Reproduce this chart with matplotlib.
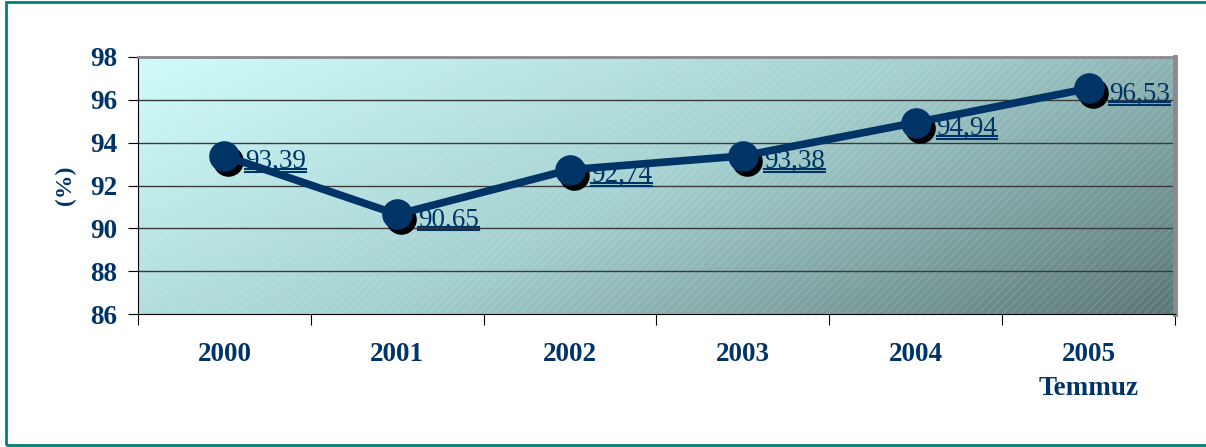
import numpy as np
import matplotlib
matplotlib.use('Agg')
import matplotlib.pyplot as plt
from matplotlib.colors import LinearSegmentedColormap
from matplotlib.patches import Rectangle
from matplotlib.lines import Line2D
from matplotlib.transforms import ScaledTranslation

# Veriler
years = ['2000', '2001', '2002', '2003', '2004', '2005\nTemmuz']
values = [93.39, 90.65, 92.74, 93.38, 94.94, 96.53]
labels = ['93,39', '90,65', '92,74', '93,38', '94,94', '96,53']

navy = '#003366'
plt.rcParams['font.family'] = ['Liberation Serif', 'DejaVu Serif']

fig = plt.figure(figsize=(12.06, 4.47), dpi=100)
ax = fig.add_axes([0.1144, 0.2975, 0.8599, 0.575])

# çerçeve
fig.patches.append(Rectangle((6 / 1206, 2 / 447), 1.2, 1 - 4 / 447, transform=fig.transFigure,
                             fill=False, edgecolor='#00807a', linewidth=2))

# arka plan degrade
xx, yy = np.meshgrid(np.linspace(0, 1, 300), np.linspace(1, 0, 120))
t = (xx * 0.65 + (1 - yy) * 0.35)
cmap = LinearSegmentedColormap.from_list('bg', ['#d0fcfc', '#a4d0d0', '#5a7675'])
ax.imshow(t, cmap=cmap, extent=[0, 1, 0, 1], transform=ax.transAxes, aspect='auto', zorder=0)
ax.add_patch(Rectangle((0, 0), 1, 1, transform=ax.transAxes, fill=False, hatch='////',
                       edgecolor=(1, 1, 1, 0.12), linewidth=0, zorder=0.5))

x = np.arange(len(values))
shadow = ax.transData + ScaledTranslation(4 / 100, -5 / 100, fig.dpi_scale_trans)
ax.plot(x, values, 'o', color='black', markersize=21, transform=shadow, zorder=2)
ax.plot(x, values, '-', color=navy, linewidth=5.5, zorder=3)
ax.plot(x, values, 'o', color=navy, markersize=21, zorder=4)

texts = []
for xi, v, lab in zip(x, values, labels):
    texts.append(ax.annotate(lab, (xi, v), xytext=(15, -4), textcoords='offset points',
                             ha='left', va='center', fontsize=19.5, color=navy, zorder=5))

ax.set_xlim(-0.5, 5.5)
ax.set_ylim(86, 98)
ax.set_yticks(np.arange(86, 99, 2))
ax.yaxis.grid(True, color='#3a3a3a', linewidth=1)
gls = ax.yaxis.get_gridlines()
for gl in gls:
    gl.set_zorder(1)
gls[0].set_visible(False)
gls[-1].set_visible(False)

ax.set_xticks(np.arange(-0.5, 6, 1))
ax.set_xticklabels([])
ax.set_xticks(x, minor=True)
ax.set_xticklabels(years, minor=True)
ax.tick_params(axis='x', which='major', length=8, direction='out', color='black')
ax.tick_params(axis='x', which='minor', length=0, pad=20)
ax.tick_params(axis='y', length=7, direction='out', pad=8)
for lab in ax.get_xticklabels(minor=True) + ax.get_yticklabels():
    lab.set_fontsize(19.5)
    lab.set_fontweight('bold')
    lab.set_color(navy)
for lab in ax.get_xticklabels(minor=True):
    lab.set_verticalalignment('top')
    lab.set_linespacing(1.5)

ax.set_ylabel('(%)', fontsize=17, fontweight='bold', color=navy, labelpad=10)

ax.spines['left'].set_color('black')
ax.spines['bottom'].set_color('black')
ax.spines['top'].set_color('#8a8a8a')
ax.spines['top'].set_linewidth(2)
ax.spines['right'].set_color('#8a8a8a')
ax.spines['right'].set_linewidth(3.5)

# çift alt çizgi
fig.canvas.draw()
r = fig.canvas.get_renderer()
inv = fig.transFigure.inverted()
for tx in texts:
    bb = tx.get_window_extent(r)
    for off in (5, 2):
        (x0, y0), (x1, _) = inv.transform([(bb.x0, bb.y0 + off), (bb.x1, bb.y0 + off)])
        fig.lines.append(Line2D([x0, x1], [y0, y0], transform=fig.transFigure,
                                color=navy, linewidth=1.5, zorder=6))

fig.savefig('out.png', dpi=100)
